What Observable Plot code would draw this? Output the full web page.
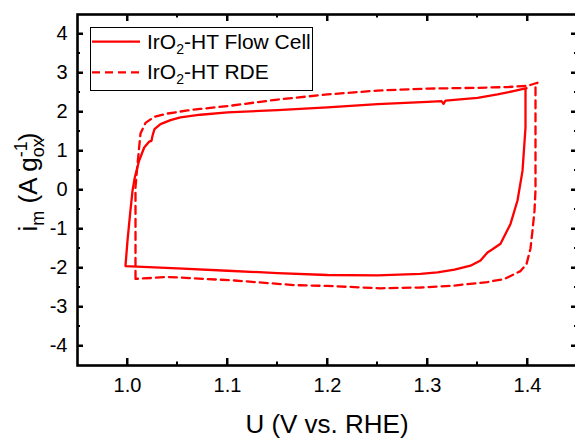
<!DOCTYPE html>
<html>
<head>
<meta charset="utf-8">
<script src="https://cdn.jsdelivr.net/npm/d3@7"></script>
<script src="https://cdn.jsdelivr.net/npm/@observablehq/plot@0.6"></script>
<style>
  html, body { margin: 0; padding: 0; background: #fff; color: #000; }
  svg { display: block; }
</style>
</head>
<body>
<script>
// IrO2-HT Flow Cell (solid) – closed CV loop
const flowU = [0.998, 1.000, 1.0026, 1.005, 1.0073, 1.0116, 1.0167, 1.0216, 1.024, 1.025, 1.027, 1.033, 1.043, 1.053, 1.073,
  1.10, 1.15, 1.20, 1.25, 1.30, 1.314, 1.316, 1.318, 1.35, 1.37, 1.387, 1.399,
  1.398, 1.398, 1.395, 1.390, 1.383, 1.373, 1.365, 1.360, 1.353, 1.343, 1.327, 1.310, 1.293, 1.25, 1.20, 1.15, 1.10, 1.05, 0.998];
const flowI = [-1.94, -1.30, -0.61, -0.02, 0.32, 0.75, 1.09, 1.24, 1.26, 1.39, 1.56, 1.69, 1.79, 1.86, 1.93,
  1.99, 2.05, 2.12, 2.20, 2.26, 2.28, 2.21, 2.29, 2.36, 2.45, 2.54, 2.61,
  2.58, 1.60, 0.49, -0.27, -0.87, -1.38, -1.52, -1.60, -1.81, -1.94, -2.04, -2.11, -2.15, -2.19, -2.18, -2.13, -2.07, -2.01, -1.95];

// IrO2-HT RDE (dashed) – closed CV loop
const rdeU = [1.008, 1.008, 1.008, 1.008, 1.010, 1.013, 1.018, 1.027, 1.040, 1.060, 1.073, 1.10, 1.15, 1.20, 1.25, 1.30, 1.35, 1.38, 1.40, 1.410,
  1.408, 1.408, 1.408, 1.407, 1.405, 1.403, 1.399, 1.393, 1.377, 1.360, 1.327, 1.293, 1.253, 1.20, 1.167, 1.107, 1.04, 1.008];
const rdeI = [-2.28, -1.90, -0.60, 0.07, 0.66, 1.45, 1.72, 1.88, 1.96, 2.04, 2.08, 2.15, 2.32, 2.45, 2.55, 2.60, 2.62, 2.64, 2.67, 2.75,
  2.70, 1.50, 0.00, -0.53, -1.04, -1.50, -1.90, -2.08, -2.28, -2.36, -2.45, -2.50, -2.52, -2.46, -2.44, -2.32, -2.23, -2.28];

const xTicks = [1.0, 1.1, 1.2, 1.3, 1.4];
const xMinor = [1.05, 1.15, 1.25, 1.35];
const yTicks = [-4, -3, -2, -1, 0, 1, 2, 3, 4];
const yMinor = [-3.5, -2.5, -1.5, -0.5, 0.5, 1.5, 2.5, 3.5];
const seriesNames = ["IrO2-HT Flow Cell", "IrO2-HT RDE"];

const flow = flowU.map((u, k) => ({u, i: flowI[k]}));
const rde = rdeU.map((u, k) => ({u, i: rdeI[k]}));

const red = "#ff0000";
const W = 575, H = 441, mL = 77, mR = -2, mT = 14, mB = 76;
const PW = W - mL - mR, PH = H - mT - mB;
const xDom = [0.95, 1.45], yDom = [-4.5, 4.5];
const ux = (xDom[1] - xDom[0]) / PW;   // data units per pixel (x)
const uy = (yDom[1] - yDom[0]) / PH;   // data units per pixel (y)
const font = "'Liberation Sans', Arial, sans-serif";

// tick slivers as filled rects (inward ticks on all four sides)
const tickRects = [];
xTicks.forEach(v => {
  tickRects.push({x1: v - ux, x2: v + ux, y1: yDom[0], y2: yDom[0] + 7 * uy});
  tickRects.push({x1: v - ux, x2: v + ux, y1: yDom[1] - 7 * uy, y2: yDom[1]});
});
xMinor.forEach(v => {
  tickRects.push({x1: v - ux, x2: v + ux, y1: yDom[0], y2: yDom[0] + 3.5 * uy});
  tickRects.push({x1: v - ux, x2: v + ux, y1: yDom[1] - 3.5 * uy, y2: yDom[1]});
});
yTicks.forEach(v => {
  tickRects.push({x1: xDom[0], x2: xDom[0] + 6 * ux, y1: v - uy, y2: v + uy});
  tickRects.push({x1: xDom[1] - 6 * ux, x2: xDom[1], y1: v - uy, y2: v + uy});
});
yMinor.forEach(v => {
  tickRects.push({x1: xDom[0], x2: xDom[0] + 3 * ux, y1: v - uy, y2: v + uy});
  tickRects.push({x1: xDom[1] - 3 * ux, x2: xDom[1], y1: v - uy, y2: v + uy});
});

const plot = Plot.plot({
  width: W,
  height: H,
  marginLeft: mL,
  marginRight: mR,
  marginTop: mT,
  marginBottom: mB,
  x: {domain: xDom},
  y: {domain: yDom},
  marks: [
    Plot.line(flow, {x: "u", y: "i", stroke: red, strokeWidth: 2.3, curve: "linear"}),
    Plot.line(rde, {x: "u", y: "i", stroke: red, strokeWidth: 2.3, strokeDasharray: "8,5", curve: "linear"}),
    Plot.rect(tickRects, {x1: "x1", x2: "x2", y1: "y1", y2: "y2", fill: "black"}),
    Plot.tickX(xTicks, {x: d => d, insetTop: PH - 7, stroke: "black", strokeWidth: 2}),
    Plot.tickX(xTicks, {x: d => d, insetBottom: PH - 7, stroke: "black", strokeWidth: 2}),
    Plot.tickY(yTicks, {y: d => d, insetRight: PW - 6, stroke: "black", strokeWidth: 2}),
    Plot.tickY(yTicks, {y: d => d, insetLeft: PW - 6, stroke: "black", strokeWidth: 2}),
    Plot.axisX(xTicks, {anchor: "bottom", tickSize: 0, tickPadding: 12, tickFormat: d => d.toFixed(1), label: null, fontSize: 20}),
    Plot.axisY(yTicks, {anchor: "left", tickSize: 0, tickPadding: 10, tickFormat: d => String(d), label: null, fontSize: 20}),
    Plot.frame({stroke: "black", strokeWidth: 2.6})
  ]
});

document.body.appendChild(plot);

const svg = d3.select(plot).attr("font-family", font);

// X axis title
svg.append("text")
  .attr("x", 327).attr("y", 433)
  .attr("text-anchor", "middle")
  .attr("font-family", font).attr("font-size", 26).attr("fill", "black")
  .text("U (V vs. RHE)");

// Y axis title with sub/superscripts
const yt = svg.append("text")
  .attr("transform", "translate(37,182) rotate(-90)")
  .attr("text-anchor", "middle")
  .attr("font-family", font).attr("font-size", 26).attr("fill", "black");
yt.append("tspan").text("i");
yt.append("tspan").attr("dy", 7).attr("font-size", 18).text("m");
yt.append("tspan").attr("dy", -7).text(" (A g");
yt.append("tspan").attr("dy", 7).attr("font-size", 18).text("ox");
yt.append("tspan").attr("dx", -19).attr("dy", -17).attr("font-size", 18).text("-1");
yt.append("tspan").attr("dy", 10).text(")");

// Legend
const lg = svg.append("g");
lg.append("rect").attr("x", 90.5).attr("y", 27.5).attr("width", 222).attr("height", 63)
  .attr("fill", "white").attr("stroke", "black").attr("stroke-width", 1);
const dashes = [null, "8,5"];
seriesNames.forEach((name, k) => {
  const cy = 41.7 + k * 30.6;
  lg.append("line").attr("x1", 92).attr("x2", 140).attr("y1", cy).attr("y2", cy)
    .attr("stroke", red).attr("stroke-width", 2.3).attr("stroke-dasharray", dashes[k]);
  const t = lg.append("text").attr("x", 147).attr("y", cy + 7)
    .attr("text-anchor", "start")
    .attr("font-family", font).attr("font-size", 21).attr("fill", "black");
  const parts = name.split("O2");
  t.append("tspan").text(parts[0] + "O");
  t.append("tspan").attr("dy", 5).attr("font-size", 14).text("2");
  t.append("tspan").attr("dy", -5).text(parts[1]);
});
</script>
</body>
</html>
